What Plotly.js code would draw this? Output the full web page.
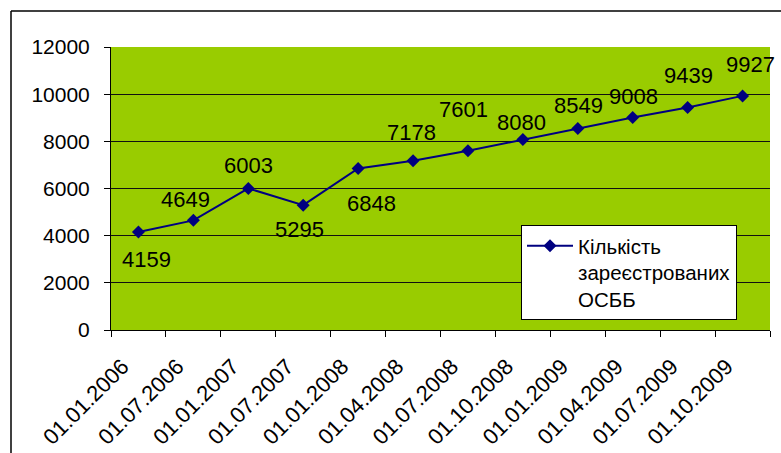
<!DOCTYPE html>
<html>
<head>
<meta charset="utf-8">
<script src="https://cdn.plot.ly/plotly-3.0.1.min.js"></script>
<style>html,body{margin:0;padding:0;background:#fff;}#chart{width:781px;height:453px;}</style>
</head>
<body>
<div id="chart"></div>
<script>
// Data
const categories = ["01.01.2006","01.07.2006","01.01.2007","01.07.2007","01.01.2008","01.04.2008","01.07.2008","01.10.2008","01.01.2009","01.04.2009","01.07.2009","01.10.2009"];
const values = [4159, 4649, 6003, 5295, 6848, 7178, 7601, 8080, 8549, 9008, 9439, 9927];
const seriesName = "Кількість<br>зареєстрованих<br>ОСББ";
const yTicks = [0, 2000, 4000, 6000, 8000, 10000, 12000];

// Label placement offsets (px), style only
const labelDx = [8, -8, 0, -4, 13, -2, -4, -1, 1, 1, 1, 8];
const labelDy = [-28, 21, 23, -24, -35, 28, 41, 17, 23, 21, 32, 31];

const font = "'Liberation Sans', Arial, sans-serif";
const annotations = categories.map((c, i) => ({
  x: c, y: values[i], xref: "x", yref: "y",
  text: String(values[i]), showarrow: false,
  xshift: labelDx[i], yshift: labelDy[i],
  font: {family: font, size: 22, color: "#000"}
}));

const trace = {
  x: categories, y: values, type: "scatter", mode: "lines+markers",
  name: seriesName,
  line: {color: "#000080", width: 2},
  marker: {symbol: "diamond", size: 10, color: "#000080"}
};

const pw = 781 - 111 - 11, ph = 453 - 47 - 123;
const fx = (11 - 111) / pw, fy = (330 - 11) / ph;

const layout = {
  width: 781, height: 453,
  margin: {l: 111, r: 11, t: 47, b: 123},
  paper_bgcolor: "#ffffff",
  plot_bgcolor: "#99CC00",
  font: {family: font, size: 21, color: "#000"},
  showlegend: true,
  legend: {
    x: (521 - 111) / pw, y: (330 - 225) / ph, xanchor: "left", yanchor: "top",
    bgcolor: "#ffffff", bordercolor: "#000", borderwidth: 1,
    font: {family: font, size: 20.5, color: "#000"},
    itemwidth: 46, valign: "top", tracegroupgap: 0
  },
  xaxis: {
    type: "category", tickangle: -45, tickson: "boundaries",
    ticks: "outside", ticklen: 6, tickcolor: "#000", tickwidth: 1,
    showline: true, linecolor: "#000", linewidth: 1,
    showgrid: false, zeroline: false,
    tickfont: {family: font, size: 22, color: "#000"},
    ticklabelstandoff: 14, ticklabelshift: -16,
    range: [-0.5, 11.5], fixedrange: true
  },
  yaxis: {
    range: [0, 12000], tickvals: yTicks, ticktext: yTicks.map(String),
    ticks: "outside", ticklen: 6, tickcolor: "#000", tickwidth: 1,
    showline: true, linecolor: "#000", linewidth: 1,
    showgrid: true, gridcolor: "#111", gridwidth: 1, zeroline: false,
    tickfont: {family: font, size: 21, color: "#000"},
    ticklabelstandoff: 10
  },
  annotations: annotations,
  shapes: [
    {type: "line", xref: "paper", yref: "y", x0: 0.002, x1: 1, y0: 12000, y1: 12000, line: {color: "#99CC00", width: 2}, layer: "above"},
    {type: "line", xref: "paper", yref: "paper", x0: fx, x1: 1.05, y0: fy, y1: fy, line: {color: "#000", width: 1.5}},
    {type: "line", xref: "paper", yref: "paper", x0: fx, x1: fx, y0: fy, y1: (330 - 460) / ph, line: {color: "#000", width: 1.5}}
  ]
};

Plotly.newPlot("chart", [trace], layout, {displayModeBar: false, staticPlot: true});
</script>
</body>
</html>
